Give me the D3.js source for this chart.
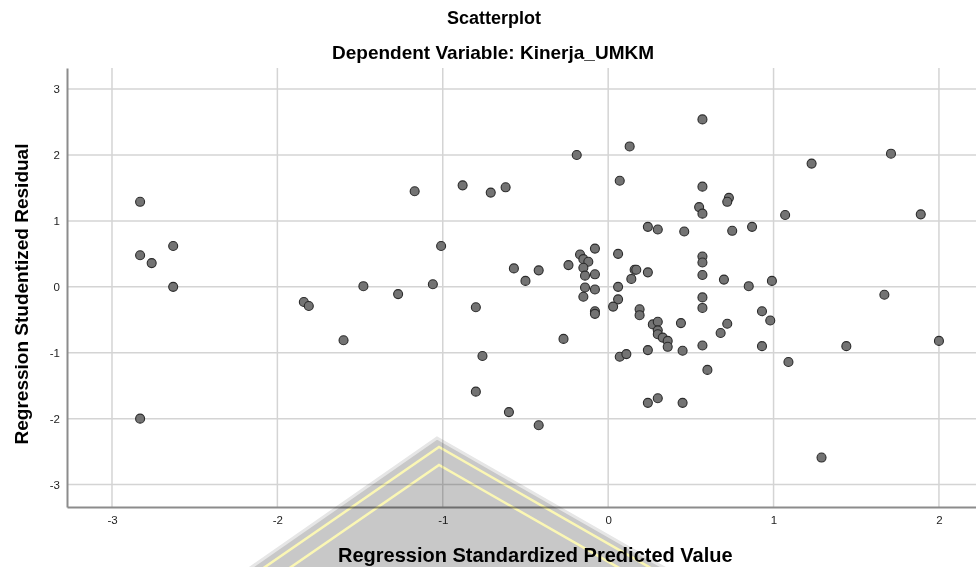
<html>
  <head>
    <meta charset="utf-8">
    <script src="https://d3js.org/d3.v7.min.js"></script>
    <style>
      body { margin: 0; background: #fff; }
      text { font-family: Arial, "Liberation Sans", sans-serif; }
    </style>
  </head>
  <body>
    <svg class="chart"></svg>
  </body>
  <script>
  // regression standardized predicted value (x) / studentized residual (y)
  const predicted = [
    -2.83, -2.83, -2.76, -2.63, -2.63, -2.83, -1.84, -1.81, -1.60, -1.48,
    -1.27, -1.17, -1.06, -1.01, -0.88, -0.80, -0.80, -0.76, -0.71, -0.62,
    -0.60, -0.57, -0.50, -0.42, -0.42, -0.27, -0.24, -0.19, -0.17, -0.15,
    -0.12, -0.15, -0.14, -0.08, -0.08, -0.14, -0.08, -0.15, -0.08, -0.08,
    0.06, 0.07, 0.13, 0.06, 0.06, 0.03, 0.07, 0.11, 0.14, 0.16,
    0.17, 0.24, 0.24, 0.30, 0.19, 0.19, 0.24, 0.27, 0.30, 0.30,
    0.30, 0.33, 0.36, 0.36, 0.24, 0.30, 0.44, 0.45, 0.45, 0.46,
    0.57, 0.57, 0.55, 0.57, 0.57, 0.57, 0.57, 0.57, 0.57, 0.57,
    0.60, 0.68, 0.72, 0.70, 0.73, 0.72, 0.75, 0.85, 0.87, 0.93,
    0.93, 0.98, 0.99, 1.07, 1.09, 1.23, 1.29, 1.44, 1.67, 1.71,
    1.89, 2.00
  ];
  const residual = [
    1.29, 0.48, 0.36, 0.62, 0.00, -2.00, -0.23, -0.29, -0.81, 0.01,
    -0.11, 1.45, 0.04, 0.62, 1.54, -0.31, -1.59, -1.05, 1.43, 1.51,
    -1.90, 0.28, 0.09, 0.25, -2.10, -0.79, 0.33, 2.00, 0.49, 0.42,
    0.38, 0.29, 0.17, 0.19, 0.58, -0.01, -0.04, -0.15, -0.37, -0.41,
    0.50, 1.61, 2.13, 0.00, -0.19, -0.30, -1.06, -1.02, 0.12, 0.26,
    0.26, 0.22, 0.91, 0.87, -0.34, -0.43, -0.96, -0.57, -0.53, -0.66,
    -0.72, -0.77, -0.82, -0.91, -1.76, -1.69, -0.55, -0.97, -1.76, 0.84,
    2.54, 1.52, 1.21, 1.11, 0.46, 0.37, 0.18, -0.16, -0.32, -0.89,
    -1.26, -0.70, -0.56, 0.11, 1.35, 1.29, 0.85, 0.01, 0.91, -0.37,
    -0.90, -0.51, 0.09, 1.09, -1.14, 1.87, -2.59, -0.90, -0.12, 2.02,
    1.10, -0.82
  ];
  const xTicks = [-3, -2, -1, 0, 1, 2];
  const yTicks = [-3, -2, -1, 0, 1, 2, 3];
  const title = 'Scatterplot';
  const subtitle = 'Dependent Variable: Kinerja_UMKM';
  const xLabel = 'Regression Standardized Predicted Value';
  const yLabel = 'Regression Studentized Residual';

  function drawScatter(){
    let width = 976;
    let height = 567;
    let margin = {top:68, bottom:60, left:67, right:0};

    let x = d3.scaleLinear()
      .domain([-3.272, 2.224])
      .range([margin.left, width - margin.right]);
    let y = d3.scaleLinear()
      .domain([-3.34, 3.32])
      .range([height - margin.bottom, margin.top]);

    let svg = d3.select('.chart')
      .attr('viewBox', [0, 0, width, height])
      .attr('width', width)
      .attr('height', height);

    // grid
    svg.append('g')
      .selectAll('line')
      .data(xTicks)
      .join('line')
        .attr('x1', d=>x(d)).attr('x2', d=>x(d))
        .attr('y1', margin.top).attr('y2', height - margin.bottom)
        .attr('stroke', '#d4d4d4').attr('stroke-width', 1.5);
    svg.append('g')
      .selectAll('line')
      .data(yTicks)
      .join('line')
        .attr('x1', margin.left).attr('x2', width)
        .attr('y1', d=>y(d)).attr('y2', d=>y(d))
        .attr('stroke', '#d4d4d4').attr('stroke-width', 1.5);

    // axes, plain hyphen minus like the original
    let fmt = d=>String(d);
    let xAxis = svg.append('g')
      .attr('transform', `translate(0,${height - margin.bottom})`)
      .call(d3.axisBottom(x).tickValues(xTicks).tickFormat(fmt).tickSize(0).tickPadding(9));
    let yAxis = svg.append('g')
      .attr('transform', `translate(${margin.left},0)`)
      .call(d3.axisLeft(y).tickValues(yTicks).tickFormat(fmt).tickSize(0).tickPadding(7));
    [xAxis, yAxis].forEach(a=>{
      a.select('.domain').attr('stroke', '#8c8c8c').attr('stroke-width', 2);
      a.selectAll('text')
        .attr('fill', '#222')
        .style('font-size', '11.5px');
    });

    // points
    svg.append('g')
      .selectAll('circle')
      .data(predicted.map((p, i)=>[p, residual[i]]))
      .join('circle')
        .attr('cx', d=>x(d[0]))
        .attr('cy', d=>y(d[1]))
        .attr('r', 4.5)
        .attr('fill', '#737373')
        .attr('stroke', '#2b2b2b')
        .attr('stroke-width', 1.1);

    // titles
    svg.append('text')
      .attr('x', 494).attr('y', 24)
      .attr('text-anchor', 'middle')
      .style('font-size', '18px').style('font-weight', 'bold')
      .text(title);
    svg.append('text')
      .attr('x', 493).attr('y', 59)
      .attr('text-anchor', 'middle')
      .style('font-size', '19px').style('font-weight', 'bold')
      .text(subtitle);
    svg.append('text')
      .attr('x', 338).attr('y', 562)
      .attr('text-anchor', 'start')
      .style('font-size', '20px').style('font-weight', 'bold')
      .text(xLabel);
    svg.append('text')
      .attr('transform', 'translate(28,294) rotate(-90)')
      .attr('text-anchor', 'middle')
      .style('font-size', '19px').style('font-weight', 'bold')
      .text(yLabel);

    // watermark logo fragment over the bottom, multiplied so dark text stays dark
    let apex = [437, 438];
    let wm = svg.append('g')
      .attr('pointer-events', 'none')
      .style('mix-blend-mode', 'multiply');
    wm.append('path')
      .attr('d', `M${apex[0]-230},${apex[1]+160} L${apex[0]},${apex[1]} L${apex[0]+280},${apex[1]+160} Z`)
      .attr('fill', '#c8c8c8')
      .attr('stroke', '#e6e6e6')
      .attr('stroke-width', 3);
    [9, 27].forEach(off=>{
      wm.append('path')
        .attr('d', `M${apex[0]-230},${apex[1]+off+160} L${apex[0]+2},${apex[1]+off} L${apex[0]+282},${apex[1]+off+160}`)
        .attr('fill', 'none')
        .attr('stroke', '#fbf7b4')
        .attr('stroke-width', 2.5);
    });
  }

  drawScatter();
  </script>
</html>
